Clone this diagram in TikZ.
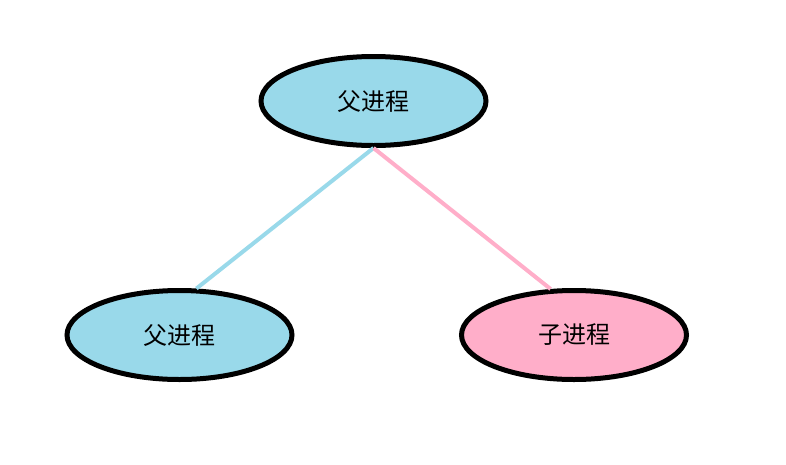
\documentclass[tikz,border=0pt]{standalone}
\usepackage{fontspec}
\newfontfamily\cjk{Noto Sans CJK SC}
\usetikzlibrary{shapes.geometric}
\definecolor{lblue}{RGB}{153,217,234}
\definecolor{lpink}{RGB}{255,174,201}
\tikzset{
  proc/.style={ellipse, draw=black, line width=5pt, minimum width=225pt, minimum height=89pt, inner sep=0pt, font=\cjk\fontsize{24}{28}\selectfont, text=black},
  link/.style={line width=4pt}
}
\begin{document}
\begin{tikzpicture}[x=1pt,y=-1pt]
\useasboundingbox (0,0) rectangle (786,464);
\node[proc, fill=lblue] (top) at (373.5,101) {父进程};
\node[proc, fill=lblue] (bl) at (179.5,335) {父进程};
\node[proc, fill=lpink] (br) at (574,335) {子进程};
\draw[link, lblue] (top.south) -- (bl.70);
\draw[link, lpink] (top.south) -- (br.117);
\end{tikzpicture}
\end{document}
